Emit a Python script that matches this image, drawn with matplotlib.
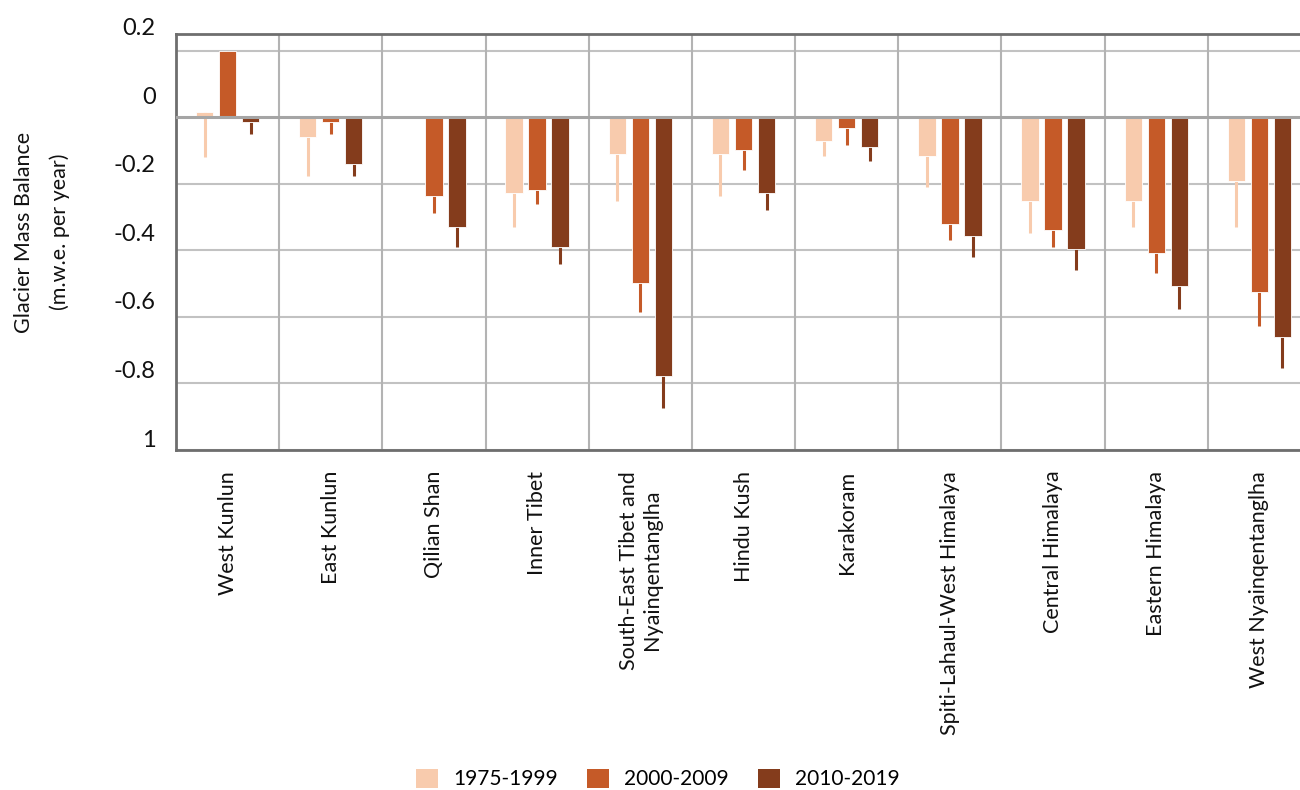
import numpy as np
import matplotlib
matplotlib.use("Agg")
import matplotlib.pyplot as plt
from matplotlib.patches import Patch

plt.rcParams['font.family'] = ["Lato", "DejaVu Sans"]

categories = ["West Kunlun", "East Kunlun", "Qilian Shan", "Inner Tibet",
              "South-East Tibet and\nNyainqentanglha", "Hindu Kush", "Karakoram",
              "Spiti-Lahaul-West Himalaya", "Central Himalaya", "Eastern Himalaya",
              "West Nyainqentanglha"]
series_names = ["1975-1999", "2000-2009", "2010-2019"]
colors = ["#F8CBAD", "#C55A28", "#843C1C"]

v_1975 = [0.015, -0.059, np.nan, -0.228, -0.110, -0.110, -0.073, -0.118, -0.252, -0.252, -0.191]
v_2000 = [0.199, -0.013, -0.238, -0.220, -0.499, -0.100, -0.031, -0.320, -0.338, -0.407, -0.526]
v_2010 = [-0.014, -0.141, -0.329, -0.389, -0.778, -0.228, -0.090, -0.357, -0.397, -0.507, -0.659]

e_1975 = [0.135, 0.119, np.nan, 0.101, 0.142, 0.128, 0.045, 0.093, 0.096, 0.077, 0.138]
e_2000 = [0.190, 0.037, 0.050, 0.041, 0.087, 0.060, 0.052, 0.050, 0.051, 0.060, 0.102]
e_2010 = [0.036, 0.037, 0.060, 0.051, 0.096, 0.052, 0.043, 0.064, 0.061, 0.069, 0.096]

tick_vals = [0.2, 0.0, -0.2, -0.4, -0.6, -0.8, -1.0]
tick_labels = ["0.2", "0", "-0.2", "-0.4", "-0.6", "-0.8", "1"]
y_label = "Glacier Mass Balance\n(m.w.e. per year)"

W, H = 1300, 790
fig = plt.figure(figsize=(W / 100, H / 100), dpi=100)
ax = fig.add_axes([176 / W, (H - 450) / H, (1311 - 176) / W, (450 - 34) / H])

x = np.arange(len(categories))
bw = 0.168
offs = [-0.223, 0.0, 0.223]
vals = [v_1975, v_2000, v_2010]
errs = [e_1975, e_2000, e_2010]

for k in range(3):
    v = np.array(vals[k], dtype=float)
    e = np.array(errs[k], dtype=float)
    ax.bar(x + offs[k], v, width=bw, color=colors[k], edgecolor="#ffffff",
           linewidth=0.6, zorder=3)
    ax.errorbar(x + offs[k], v, yerr=[e, np.zeros_like(e)], fmt="none",
                ecolor=colors[k], elinewidth=2.2, capsize=0, zorder=2)

ax.set_xlim(-0.5, len(categories) - 0.5)
ax.set_ylim(-1.0, 0.25)

for t in tick_vals:
    if t != 0:
        ax.axhline(t, color="#c2c2c2", lw=1.5, zorder=0)
for b in np.arange(0.5, len(categories) - 0.5, 1.0):
    ax.axvline(b, color="#b3b3b3", lw=1.5, zorder=0)
ax.axhline(0, color="#a5a5a5", lw=2.2, zorder=4)

for side in ["left", "bottom", "top", "right"]:
    ax.spines[side].set_color("#6e6e6e")
    ax.spines[side].set_linewidth(2)

ax.set_yticks([])
ax.set_xticks(x)
ax.set_xticklabels(categories, rotation=90, ha="center", va="top",
                   multialignment="center", fontsize=15.5, color="#111111")
ax.tick_params(axis="x", length=0, pad=15)

for t, lab in zip(tick_vals, tick_labels):
    ax.text(-0.018, t * 1.03 + 0.06, lab, transform=ax.get_yaxis_transform(),
            ha="right", va="center", fontsize=17, color="#111111", clip_on=False)

fig.text(42 / W, (H - 232) / H, y_label, rotation=90, ha="center", va="center",
         multialignment="center", fontsize=15.5, color="#111111", linespacing=1.9)

handles = [Patch(facecolor=c, edgecolor="none") for c in colors]
fig.legend(handles, series_names, loc="center", bbox_to_anchor=(0.506, 0.014),
           ncol=3, frameon=False, fontsize=15, handlelength=1.06, handleheight=1.06,
           handletextpad=0.72, columnspacing=1.4, borderpad=0, borderaxespad=0)

fig.savefig("out.png", dpi=100)
